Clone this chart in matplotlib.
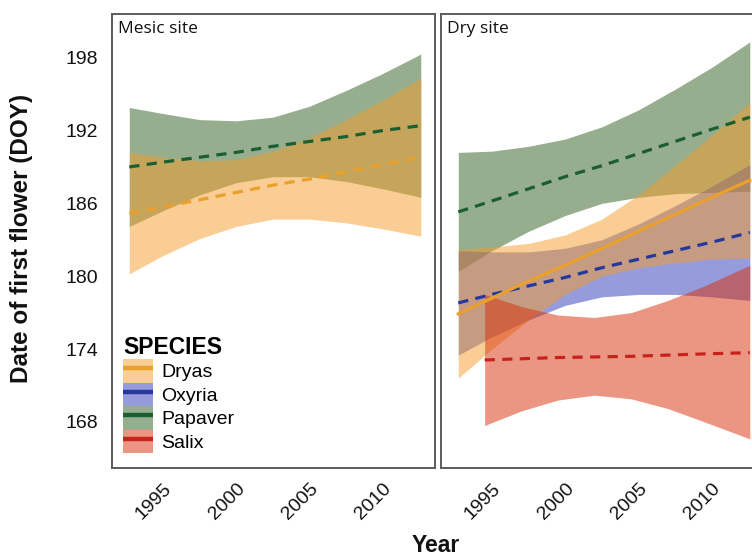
import matplotlib
matplotlib.use("Agg")
import matplotlib.pyplot as plt
from matplotlib.patches import Patch
from matplotlib.lines import Line2D
from matplotlib.legend_handler import HandlerTuple

# ---------------- data ----------------
species = ["Dryas", "Oxyria", "Papaver", "Salix"]
x_ticks = [1995, 2000, 2005, 2010]
y_ticks = [168, 174, 180, 186, 192, 198]

years = [1992.7, 1995, 1997.5, 2000, 2002.5, 2005, 2007.5, 2010, 2012.6]
salix_years = [1994.5, 1997, 1999.5, 2002, 2004.5, 2007, 2009.5, 2012.6]

# Mesic site
mesic_papaver_fit = [189.0, 189.4, 189.8, 190.2, 190.7, 191.1, 191.5, 192.0, 192.4]
mesic_papaver_hi = [193.9, 193.4, 192.9, 192.8, 193.1, 194.0, 195.3, 196.7, 198.3]
mesic_papaver_lo = [184.1, 185.4, 186.7, 187.7, 188.2, 188.2, 187.8, 187.2, 186.5]
mesic_dryas_fit = [185.2, 185.7, 186.3, 186.9, 187.5, 188.0, 188.6, 189.2, 189.8]
mesic_dryas_hi = [190.2, 189.8, 189.5, 189.6, 190.3, 191.4, 192.9, 194.5, 196.3]
mesic_dryas_lo = [180.2, 181.7, 183.1, 184.1, 184.7, 184.7, 184.4, 183.9, 183.3]

# Dry site
dry_papaver_fit = [185.3, 186.2, 187.2, 188.2, 189.1, 190.1, 191.1, 192.1, 193.1]
dry_papaver_hi = [190.2, 190.3, 190.7, 191.3, 192.3, 193.7, 195.4, 197.2, 199.3]
dry_papaver_lo = [180.4, 182.1, 183.7, 185.0, 186.0, 186.5, 186.8, 186.9, 187.0]
dry_oxyria_fit = [177.8, 178.5, 179.2, 179.9, 180.7, 181.4, 182.1, 182.8, 183.6]
dry_oxyria_hi = [182.1, 182.0, 182.0, 182.3, 183.0, 184.3, 185.8, 187.4, 189.2]
dry_oxyria_lo = [173.5, 175.0, 176.4, 177.6, 178.3, 178.5, 178.5, 178.3, 178.0]
dry_dryas_fit = [176.9, 178.2, 179.6, 180.9, 182.3, 183.7, 185.1, 186.5, 187.9]
dry_dryas_hi = [182.2, 182.4, 182.7, 183.4, 184.7, 186.7, 189.1, 191.6, 194.3]
dry_dryas_lo = [171.6, 174.0, 176.4, 178.5, 180.0, 180.7, 181.1, 181.4, 181.5]
dry_salix_fit = [173.1, 173.2, 173.3, 173.35, 173.4, 173.5, 173.6, 173.7]
dry_salix_hi = [178.5, 177.5, 176.8, 176.6, 177.0, 178.0, 179.2, 180.9]
dry_salix_lo = [167.7, 168.9, 169.8, 170.2, 169.9, 169.1, 168.0, 166.6]

# ---------------- styles ----------------
fill_col = {"Dryas": (0.96, 0.61, 0.16), "Oxyria": (0.18, 0.22, 0.73),
            "Papaver": (0.18, 0.37, 0.12), "Salix": (0.85, 0.18, 0.03)}
line_col = {"Dryas": "#E9A02C", "Oxyria": "#26389E", "Papaver": "#1B5E31",
            "Salix": "#C8221C"}
band_alpha = 0.5
dash = (0, (3.2, 2.3))
LW = 2.3

plt.rcParams["font.family"] = ["Liberation Sans", "DejaVu Sans"]

fig = plt.figure(figsize=(7.52, 5.59), dpi=100)
W, H = 752, 559
ax1 = fig.add_axes([112 / W, 1 - 468 / H, 323 / W, 454 / H])
ax2 = fig.add_axes([441 / W, 1 - 468 / H, 323 / W, 454 / H])

mesic = [
    ("Papaver", years, mesic_papaver_fit, mesic_papaver_lo, mesic_papaver_hi, dash),
    ("Dryas", years, mesic_dryas_fit, mesic_dryas_lo, mesic_dryas_hi, dash),
]
dry = [
    ("Papaver", years, dry_papaver_fit, dry_papaver_lo, dry_papaver_hi, dash),
    ("Oxyria", years, dry_oxyria_fit, dry_oxyria_lo, dry_oxyria_hi, dash),
    ("Dryas", years, dry_dryas_fit, dry_dryas_lo, dry_dryas_hi, "-"),
    ("Salix", salix_years, dry_salix_fit, dry_salix_lo, dry_salix_hi, dash),
]

for ax, layers, title in [(ax1, mesic, "Mesic site"), (ax2, dry, "Dry site")]:
    for sp, xs, fit, lo, hi, ls in layers:
        ax.fill_between(xs, lo, hi, color=fill_col[sp], alpha=band_alpha,
                        linewidth=0)
        ax.plot(xs, fit, color=line_col[sp], lw=LW, linestyle=ls)
    ax.set_xlim(1991.52, 2013.57)
    ax.set_ylim(164.2, 201.6)
    ax.set_xticks(x_ticks)
    ax.set_xticklabels([str(t) for t in x_ticks], rotation=45, ha="right",
                       va="top", rotation_mode="anchor")
    ax.set_yticks(y_ticks)
    ax.tick_params(axis="both", length=0, labelsize=14, colors="#111111")
    ax.tick_params(axis="x", pad=9)
    ax.tick_params(axis="y", pad=10)
    for s in ax.spines.values():
        s.set_color("#5c5c5c")
        s.set_linewidth(1.4)
    ax.text(0.018, 0.985, title, transform=ax.transAxes, ha="left", va="top",
            fontsize=12.5, family=["Open Sans", "DejaVu Sans"], color="#111111")

ax2.set_yticklabels([])

# legend
handles = []
for sp in species:
    handles.append((Patch(facecolor=fill_col[sp], alpha=band_alpha, linewidth=0),
                    Line2D([], [], color=line_col[sp], lw=3.2,
                           solid_capstyle="butt")))
leg = ax1.legend(handles, species,
                 handler_map={tuple: HandlerTuple(ndivide=1, pad=0)},
                 loc="lower left", bbox_to_anchor=(0.034, 0.033),
                 borderaxespad=0, borderpad=0, frameon=False, fontsize=14,
                 handlelength=1.55, handleheight=1.48, labelspacing=0,
                 handletextpad=0.4, title="SPECIES", alignment="left",
                 title_fontproperties={"weight": "bold", "size": 16.5})

fig.text(22 / W, 1 - 238 / H, "Date of first flower (DOY)", rotation=90,
         ha="center", va="center", fontsize=17.5, fontweight="bold",
         color="#111111")
fig.text(436 / W, 1 - 546 / H, "Year", ha="center", va="center",
         fontsize=16.5, fontweight="bold", color="#111111")

fig.savefig("out.png", dpi=100)
